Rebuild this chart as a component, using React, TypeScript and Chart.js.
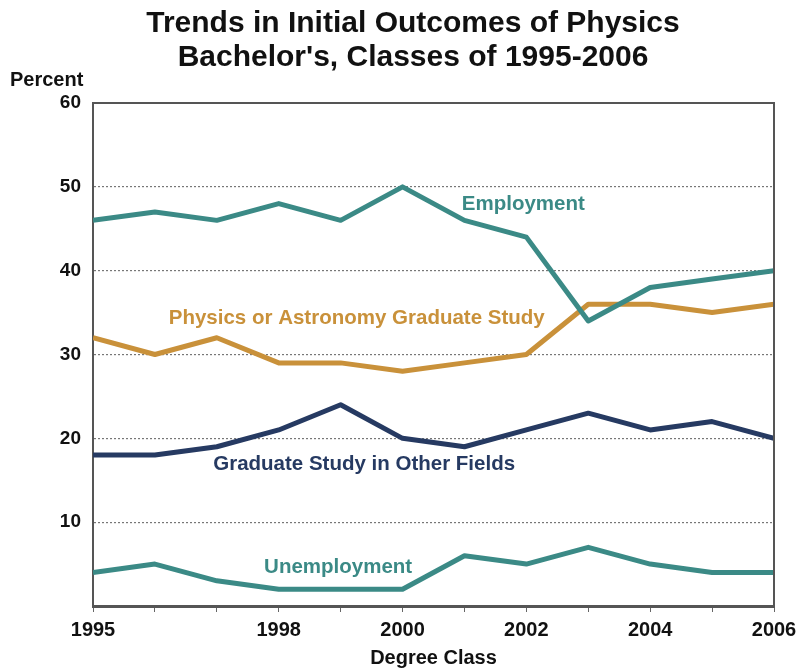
import React, { useEffect, useRef } from "react";
import { Chart, registerables } from "chart.js";

Chart.register(...registerables);

const years = [1995, 1996, 1997, 1998, 1999, 2000, 2001, 2002, 2003, 2004, 2005, 2006];
const xTickLabels = [1995, 1998, 2000, 2002, 2004, 2006];
const yTicks = [10, 20, 30, 40, 50, 60];
const employment = [46, 47, 46, 48, 46, 50, 46, 44, 34, 38, 39, 40];
const physicsGrad = [32, 30, 32, 29, 29, 28, 29, 30, 36, 36, 35, 36];
const otherFields = [18, 18, 19, 21, 24, 20, 19, 21, 23, 21, 22, 20];
const unemployment = [4, 5, 3, 2, 2, 2, 6, 5, 7, 5, 4, 4];

const titleLines = ["Trends in Initial Outcomes of Physics", "Bachelor's, Classes of 1995-2006"];

const TEAL = "#3b8a86";
const GOLD = "#c9913a";
const NAVY = "#263a62";
const SANS = '"Liberation Sans", Arial, Helvetica, sans-serif';

const seriesLabels = [
  { text: "Employment", x: 2001.95, y: 47.9, color: TEAL },
  { text: "Physics or Astronomy Graduate Study", x: 1999.26, y: 34.3, color: GOLD },
  { text: "Graduate Study in Other Fields", x: 1999.38, y: 16.9, color: NAVY },
  { text: "Unemployment", x: 1998.96, y: 4.64, color: TEAL },
];

const textPlugin = {
  id: "texts",
  afterDraw(chart: any) {
    const ctx = chart.ctx;
    const { chartArea } = chart;
    const xs = chart.scales.x;
    const ys = chart.scales.y;
    ctx.save();
    // frame top & right
    ctx.strokeStyle = "#555";
    ctx.lineWidth = 2;
    ctx.beginPath();
    ctx.moveTo(chartArea.left, chartArea.top);
    ctx.lineTo(chartArea.right, chartArea.top);
    ctx.lineTo(chartArea.right, chartArea.bottom);
    ctx.stroke();
    // title
    ctx.fillStyle = "#111";
    ctx.textAlign = "center";
    ctx.textBaseline = "alphabetic";
    ctx.font = `bold 30px ${SANS}`;
    ctx.fillText(titleLines[0], 413, 32);
    ctx.fillText(titleLines[1], 413, 66);
    // Percent
    ctx.font = `bold 20px ${SANS}`;
    ctx.textAlign = "left";
    ctx.textBaseline = "middle";
    ctx.fillText("Percent", 10, 80);
    // series labels
    ctx.textAlign = "center";
    ctx.font = `bold 20.5px ${SANS}`;
    for (const l of seriesLabels) {
      ctx.fillStyle = l.color;
      ctx.fillText(l.text, xs.getPixelForValue(l.x), ys.getPixelForValue(l.y));
    }
    ctx.restore();
  },
};

export default function App() {
  const ref = useRef<HTMLCanvasElement | null>(null);
  useEffect(() => {
    if (!ref.current) return;
    const mk = (label: string, data: number[], color: string) => ({
      label,
      data: years.map((y, i) => ({ x: y, y: data[i] })),
      borderColor: color,
      backgroundColor: color,
      borderWidth: 5,
      pointRadius: 0,
      tension: 0,
      borderJoinStyle: "round" as const,
      borderCapStyle: "butt" as const,
    });
    const chart = new Chart(ref.current, {
      type: "line",
      data: {
        datasets: [
          mk("Employment", employment, TEAL),
          mk("Physics or Astronomy Graduate Study", physicsGrad, GOLD),
          mk("Graduate Study in Other Fields", otherFields, NAVY),
          mk("Unemployment", unemployment, TEAL),
        ],
      },
      options: {
        animation: false,
        responsive: false,
        maintainAspectRatio: false,
        layout: { padding: { left: 0, right: 0, top: 103, bottom: 0 } },
        plugins: { legend: { display: false }, tooltip: { enabled: false }, title: { display: false } },
        scales: {
          x: {
            type: "linear",
            min: 1995,
            max: 2006,
            afterBuildTicks: (axis: any) => {
              axis.ticks = years.map((v) => ({ value: v }));
            },
            afterFit: (axis: any) => {
              axis.height = 64;
              axis.paddingLeft = 0;
              axis.paddingRight = 23;
            },
            ticks: {
              autoSkip: false,
              maxRotation: 0,
              padding: 6,
              color: "#111",
              font: { family: SANS, size: 20, weight: "bold" },
              callback: (v: any) => (xTickLabels.includes(Number(v)) ? String(v) : ""),
            },
            grid: { drawOnChartArea: false, drawTicks: true, tickLength: 6, color: "#666", lineWidth: 1 },
            border: { display: true, color: "#555", width: 3 },
            title: {
              display: true,
              text: "Degree Class",
              color: "#111",
              font: { family: SANS, size: 20, weight: "bold" },
              padding: { top: 6, bottom: 0 },
            },
          },
          y: {
            min: 0,
            max: 60,
            afterBuildTicks: (axis: any) => {
              axis.ticks = [0, ...yTicks].map((v) => ({ value: v }));
            },
            afterFit: (axis: any) => {
              axis.width = 93;
            },
            ticks: {
              padding: 12,
              color: "#111",
              font: { family: SANS, size: 19, weight: "bold" },
              callback: (v: any) => (yTicks.includes(Number(v)) ? String(v) : ""),
            },
            grid: {
              drawTicks: false,
              color: (c: any) => (c.tick && (c.tick.value === 0 || c.tick.value === 60) ? "rgba(0,0,0,0)" : "#777"),
              lineWidth: 1.2,
            },
            border: { display: true, color: "#555", width: 2, dash: [2, 2] },
          },
        },
      },
      plugins: [textPlugin],
    });
    return () => chart.destroy();
  }, []);
  return (
    <div style={{ position: "absolute", left: 0, top: 0, width: 797, height: 670, background: "#fff" }}>
      <canvas ref={ref} width={797} height={670} style={{ width: 797, height: 670, display: "block" }} />
    </div>
  );
}
